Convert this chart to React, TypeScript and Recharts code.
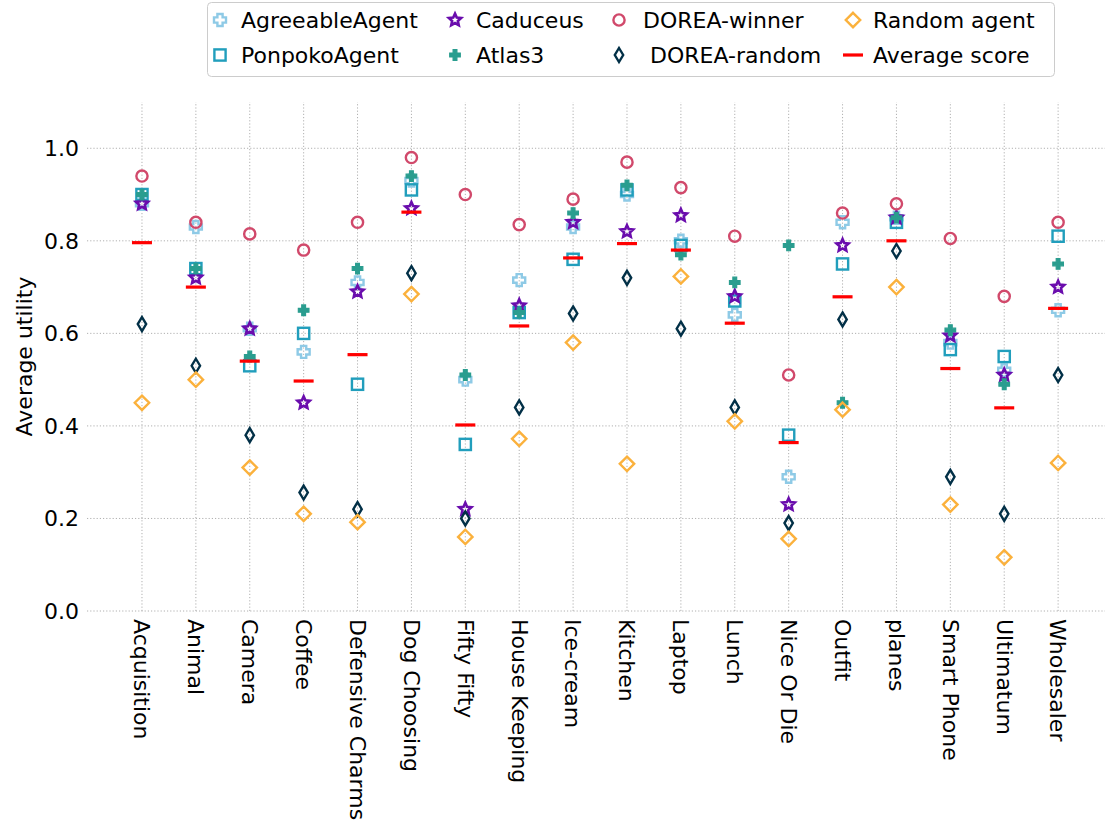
import React from "react"
import { ScatterChart, Scatter, XAxis, YAxis, CartesianGrid, ReferenceLine } from "recharts"

const categories = [
  "Acquisition", "Animal", "Camera", "Coffee", "Defensive Charms", "Dog Choosing",
  "Fifty Fifty", "House Keeping", "Ice-cream", "Kitchen", "Laptop", "Lunch",
  "Nice Or Die", "Outfit", "planes", "Smart Phone", "Ultimatum", "Wholesaler",
]

const agreeableAgent = [0.88, 0.83, 0.61, 0.56, 0.71, 0.93, 0.50, 0.715, 0.83, 0.90, 0.80, 0.64, 0.29, 0.84, 0.85, 0.58, 0.52, 0.65]
const ponpokoAgent = [0.90, 0.74, 0.53, 0.60, 0.49, 0.91, 0.36, 0.645, 0.76, 0.91, 0.79, 0.67, 0.38, 0.75, 0.84, 0.565, 0.55, 0.81]
const caduceus = [0.88, 0.72, 0.61, 0.45, 0.69, 0.87, 0.22, 0.66, 0.84, 0.82, 0.855, 0.68, 0.23, 0.79, 0.85, 0.595, 0.51, 0.70]
const atlas3 = [0.90, 0.74, 0.55, 0.65, 0.74, 0.94, 0.51, 0.645, 0.86, 0.92, 0.77, 0.71, 0.79, 0.45, 0.85, 0.607, 0.49, 0.75]
const doreaWinner = [0.94, 0.84, 0.815, 0.78, 0.84, 0.98, 0.90, 0.835, 0.89, 0.97, 0.915, 0.81, 0.51, 0.86, 0.88, 0.805, 0.68, 0.84]
const doreaRandom = [0.62, 0.53, 0.38, 0.256, 0.22, 0.73, 0.20, 0.44, 0.643, 0.72, 0.61, 0.44, 0.19, 0.63, 0.778, 0.29, 0.21, 0.51]
const randomAgent = [0.45, 0.50, 0.31, 0.21, 0.192, 0.685, 0.16, 0.372, 0.58, 0.318, 0.723, 0.41, 0.156, 0.435, 0.70, 0.23, 0.116, 0.32]
const averageScore = [0.796, 0.70, 0.54, 0.497, 0.554, 0.862, 0.402, 0.616, 0.763, 0.794, 0.78, 0.622, 0.364, 0.679, 0.80, 0.524, 0.439, 0.654]

const yTicks = [0, 0.2, 0.4, 0.6, 0.8, 1.0]
const xTicks = categories.map((_, i) => i)
const xDomain = [-1.02, 17.87]

const FONT = "DejaVu Sans, sans-serif"
const GRID = "#b0b0b0"

// plot order = legend order (column-wise)
const series = [
  { name: "AgreeableAgent", values: agreeableAgent, kind: "pplus", color: "#8ecae6" },
  { name: "PonpokoAgent", values: ponpokoAgent, kind: "square", color: "#219ebc" },
  { name: "Caduceus", values: caduceus, kind: "star", color: "#6a0dad" },
  { name: "Atlas3", values: atlas3, kind: "fplus", color: "#2a9d8f" },
  { name: "DOREA-winner", values: doreaWinner, kind: "circle", color: "#d1496b" },
  { name: " DOREA-random", values: doreaRandom, kind: "thind", color: "#023047" },
  { name: "Random agent", values: randomAgent, kind: "diamond", color: "#fbb13c" },
  { name: "Average score", values: averageScore, kind: "hline", color: "#ff0000" },
]

function plusPoints(cx: number, cy: number, a: number, t: number) {
  const p = [[-t, -a], [t, -a], [t, -t], [a, -t], [a, t], [t, t], [t, a], [-t, a], [-t, t], [-a, t], [-a, -t], [-t, -t]]
  return p.map(([x, y]) => `${cx + x},${cy + y}`).join(" ")
}

function starPoints(cx: number, cy: number, ro: number, ri: number) {
  const pts = []
  for (let i = 0; i < 10; i++) {
    const r = i % 2 === 0 ? ro : ri
    const ang = -Math.PI / 2 + (i * Math.PI) / 5
    pts.push(`${cx + r * Math.cos(ang)},${cy + r * Math.sin(ang)}`)
  }
  return pts.join(" ")
}

function Marker({ kind, color, cx, cy }: any) {
  if (cx == null || cy == null) return null
  switch (kind) {
    case "pplus":
      return <polygon points={plusPoints(cx, cy, 6, 2.6)} fill="none" stroke={color} strokeWidth={2.4} />
    case "square":
      return <rect x={cx - 5.6} y={cy - 5.6} width={11.2} height={11.2} fill="none" stroke={color} strokeWidth={2.4} />
    case "star":
      return <polygon points={starPoints(cx, cy, 6.4, 3)} fill="none" stroke={color} strokeWidth={2.6} strokeLinejoin="miter" />
    case "fplus":
      return <polygon points={plusPoints(cx, cy, 5.3, 1.9)} fill={color} stroke={color} strokeWidth={1.2} />
    case "circle":
      return <circle cx={cx} cy={cy} r={5.6} fill="none" stroke={color} strokeWidth={2.4} />
    case "thind":
      return <polygon points={`${cx},${cy - 7} ${cx + 4.2},${cy} ${cx},${cy + 7} ${cx - 4.2},${cy}`} fill="none" stroke={color} strokeWidth={2.4} />
    case "diamond":
      return <polygon points={`${cx},${cy - 7.2} ${cx + 7.2},${cy} ${cx},${cy + 7.2} ${cx - 7.2},${cy}`} fill="none" stroke={color} strokeWidth={2.4} />
    case "hline":
      return <rect x={cx - 10} y={cy - 1.6} width={20} height={3.2} fill={color} />
    default:
      return null
  }
}

function XTick({ x, y, payload }: any) {
  return (
    <text x={x} y={y} transform={`rotate(90 ${x} ${y})`} dy="0.35em" textAnchor="start"
      fontFamily={FONT} fontSize={22} fill="#000">
      {categories[payload.value]}
    </text>
  )
}

function YTick({ x, y, payload }: any) {
  return (
    <text x={x} y={y} dy="0.35em" textAnchor="end" fontFamily={FONT} fontSize={22} fill="#000">
      {payload.value.toFixed(1)}
    </text>
  )
}

function YLabel({ viewBox }: any) {
  const cy = viewBox.y + viewBox.height / 2
  return (
    <text x={24} y={cy} transform={`rotate(-90 24 ${cy})`} dy="0.35em" textAnchor="middle"
      fontFamily={FONT} fontSize={22} fill="#000">
      Average utility
    </text>
  )
}

// legend columns: [marker x, text x]
const legendCols = [[220, 241], [455, 476], [619, 643], [853, 873]]
const legendRows = [20, 55]

function LegendBox() {
  return (
    <svg width={1105} height={90} style={{ position: "absolute", left: 0, top: 0 }}>
      <rect x={207.5} y={2.5} width={847} height={74} rx={4} fill="#fff" fillOpacity={0.8} stroke="#cccccc" strokeWidth={1} />
      {series.map((s, i) => {
        const [mx, tx] = legendCols[Math.floor(i / 2)]
        const ly = legendRows[i % 2]
        return (
          <g key={s.name}>
            <Marker kind={s.kind} color={s.color} cx={mx} cy={ly} />
            <text x={tx} y={ly} dy="0.35em" fontFamily={FONT} fontSize={22} fill="#000" style={{ whiteSpace: "pre" }}>
              {s.name}
            </text>
          </g>
        )
      })}
    </svg>
  )
}

export default function App() {
  return (
    <div style={{ position: "absolute", left: 0, top: 0, width: 1105, height: 829, background: "#fff" }}>
      <ScatterChart width={1105} height={829} margin={{ top: 102, right: 0, bottom: 0, left: 0 }}>
        <CartesianGrid stroke={GRID} strokeDasharray="1.2 2" strokeWidth={1} vertical={false}
          horizontalValues={yTicks} />
        {xTicks.map((t) => (
          <ReferenceLine key={t} x={t} stroke={GRID} strokeDasharray="1.2 2" strokeWidth={1} />
        ))}
        <XAxis type="number" dataKey="x" domain={xDomain} ticks={xTicks}
          interval={0} height={218} axisLine={false} tickLine={false} tick={<XTick />} allowDataOverflow />
        <YAxis type="number" dataKey="y" domain={[0, 1.1]} ticks={yTicks} width={87} axisLine={false}
          tickLine={false} tick={<YTick />} label={<YLabel />} allowDataOverflow />
        {series.map((s) => (
          <Scatter key={s.name} name={s.name} data={s.values.map((v, i) => ({ x: i, y: v }))}
            isAnimationActive={false}
            shape={(p: any) => <Marker kind={s.kind} color={s.color} cx={p.cx} cy={p.cy} />} />
        ))}
      </ScatterChart>
      <LegendBox />
    </div>
  )
}
